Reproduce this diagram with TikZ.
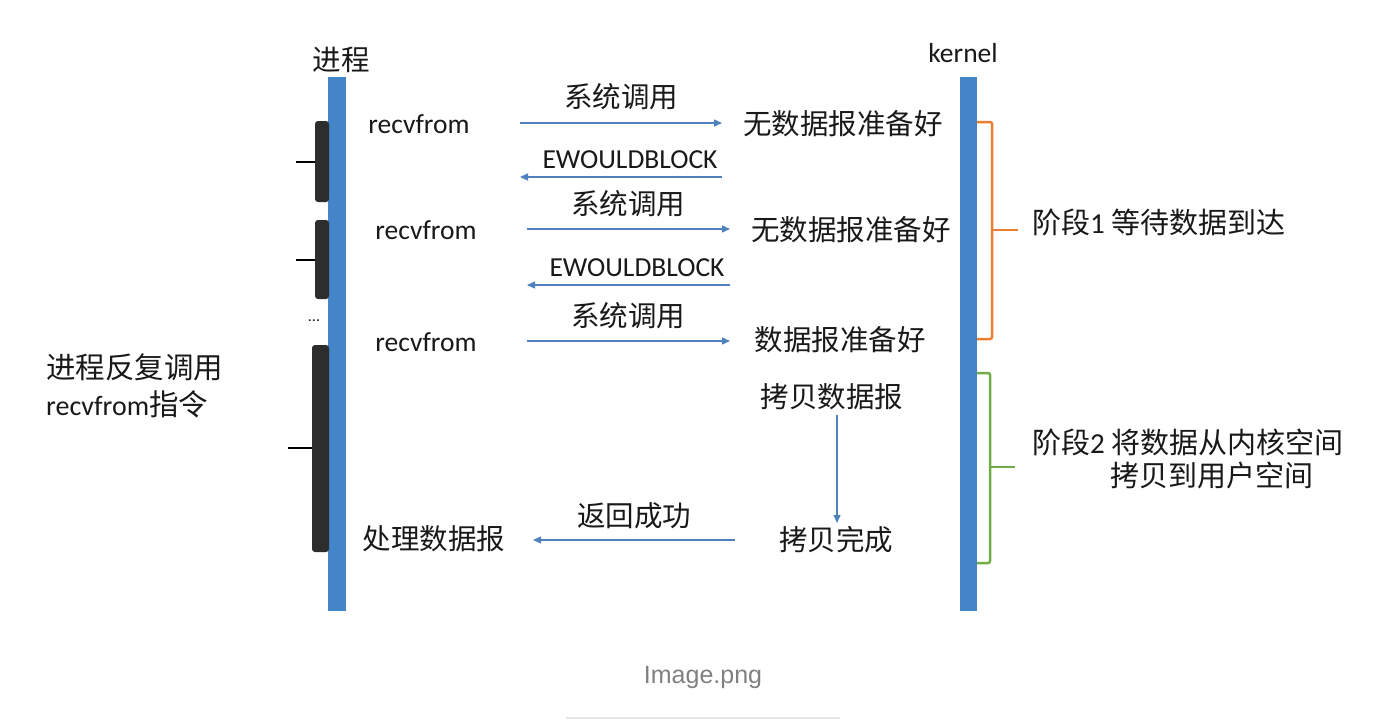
\documentclass[tikz,border=0pt]{standalone}
\usepackage{fontspec}
\setmainfont{Carlito}
\newfontfamily\cjk{Noto Sans CJK SC}
\newfontfamily\capfont{Liberation Sans}
\usetikzlibrary{arrows.meta}
\definecolor{barblue}{RGB}{68,132,201}
\definecolor{arrowblue}{RGB}{79,129,189}
\definecolor{stageorange}{RGB}{237,125,49}
\definecolor{stagegreen}{RGB}{112,173,71}
\definecolor{inkgray}{RGB}{25,25,25}
\definecolor{bracketgray}{RGB}{45,45,45}
\tikzset{
  label text/.style={inner sep=0pt, text=inkgray, font=\fontsize{27.5}{37}\selectfont},
  cjk text/.style={inner sep=0pt, text=inkgray, font=\fontsize{28.5}{37}\selectfont\cjk},
  time bar/.style={fill=barblue},
  call arrow/.style={-{Triangle[length=8pt,width=7pt]}, arrowblue, line width=1.3pt},
  loop bracket/.style={fill=bracketgray, rounded corners=3pt},
  bracket tick/.style={line width=1.3pt, black},
  stage brace/.style={line width=2.5pt, rounded corners=2pt},
}

\begin{document}
\begin{tikzpicture}[x=1pt, y=-1pt]
  \fill[white] (0,0) rectangle (1384,726);
  \useasboundingbox (0,0) rectangle (1384,726);

  % the two time lines
  \fill[time bar] (328,77) rectangle (346,611);
  \fill[time bar] (960,77) rectangle (977,611);
  \node[cjk text] (proc) at (341,60) {进程};
  \node[label text] (kern) at (963,53) {kernel};

  % first call
  \node[label text] (recvA) at (419,124) {recvfrom};
  \node[cjk text] (nodataA) at (843,124) {无数据报准备好};
  \coordinate (callAs) at (520,123);
  \coordinate (callAe) at (722,123);
  \draw[call arrow] (callAs) -- (callAe);
  \node[cjk text] (sysA) at (621,97) {系统调用};
  \node[label text] (ewbA) at (630,160) {EWOULDBLOCK};
  \coordinate (retAs) at (722,177);
  \coordinate (retAe) at (520,177);
  \draw[call arrow] (retAs) -- (retAe);

  % second call
  \node[cjk text] (sysB) at (628,204) {系统调用};
  \node[label text] (recvB) at (426,230) {recvfrom};
  \node[cjk text] (nodataB) at (851,230) {无数据报准备好};
  \coordinate (callBs) at (527,229);
  \coordinate (callBe) at (730,229);
  \draw[call arrow] (callBs) -- (callBe);
  \node[label text] (ewbB) at (637,268) {EWOULDBLOCK};
  \coordinate (retBs) at (730,285);
  \coordinate (retBe) at (527,285);
  \draw[call arrow] (retBs) -- (retBe);

  % third call, data ready
  \node[cjk text] (sysC) at (628,316) {系统调用};
  \node[label text] (recvC) at (426,342) {recvfrom};
  \node[cjk text] (ready) at (840,340) {数据报准备好};
  \coordinate (callCs) at (527,341);
  \coordinate (callCe) at (730,341);
  \draw[call arrow] (callCs) -- (callCe);

  % copy to user space
  \node[cjk text] (copy) at (832,397) {拷贝数据报};
  \node[cjk text] (copydone) at (836,540) {拷贝完成};
  \coordinate (copys) at (837,415);
  \coordinate (copye) at (837,523);
  \draw[call arrow] (copys) -- (copye);
  \node[cjk text] (okay) at (634,516) {返回成功};
  \node[cjk text] (handle) at (434,539) {处理数据报};
  \coordinate (okays) at (735,540);
  \coordinate (okaye) at (533,540);
  \draw[call arrow] (okays) -- (okaye);

  % loop brackets on the process side
  \fill[loop bracket] (329,121) -- (315,121) -- (315,202) -- (329,202) -- cycle;
  \draw[bracket tick] (296,162) -- (315,162);
  \fill[loop bracket] (329,220) -- (315,220) -- (315,299) -- (329,299) -- cycle;
  \draw[bracket tick] (296,260) -- (315,260);
  \node[label text, font=\fontsize{16}{16}\selectfont] (more) at (314,321) {...};
  \fill[loop bracket] (329,345) -- (312,345) -- (312,552) -- (329,552) -- cycle;
  \draw[bracket tick] (288,448) -- (312,448);
  \node[label text, anchor=west, align=left, font=\fontsize{28}{37}\selectfont] (loopnote) at (46,386)
    {{\cjk\fontsize{29.5}{37}\selectfont 进程反复调用}\\recvfrom{\cjk\fontsize{29.5}{37}\selectfont 指令}};

  % the two stages on the kernel side
  \draw[stage brace, stageorange] (977,122) -- (992,122) -- (992,339) -- (977,339);
  \draw[stage brace, stageorange] (992,230) -- (1018,230);
  \node[label text, anchor=west, font=\fontsize{29}{37}\selectfont] (stageA) at (1032,222) {{\cjk 阶段}1 {\cjk 等待数据到达}};
  \draw[stage brace, stagegreen] (977,373) -- (990,373) -- (990,563) -- (977,563);
  \draw[stage brace, stagegreen] (990,467) -- (1015,467);
  \node[label text, anchor=west, font=\fontsize{29}{37}\selectfont] (stageB) at (1032,442) {{\cjk 阶段}2 {\cjk 将数据从内核空间}};
  \node[cjk text, anchor=west, font=\fontsize{29}{37}\selectfont\cjk] (stageBb) at (1110,475) {拷贝到用户空间};

  % caption
  \node[inner sep=0pt, text=gray, font=\fontsize{25}{30}\selectfont\capfont] (caption) at (703,677) {Image.png};
  \draw[line width=2pt, black!10] (566,718) -- (840,718);
\end{tikzpicture}
\end{document}
